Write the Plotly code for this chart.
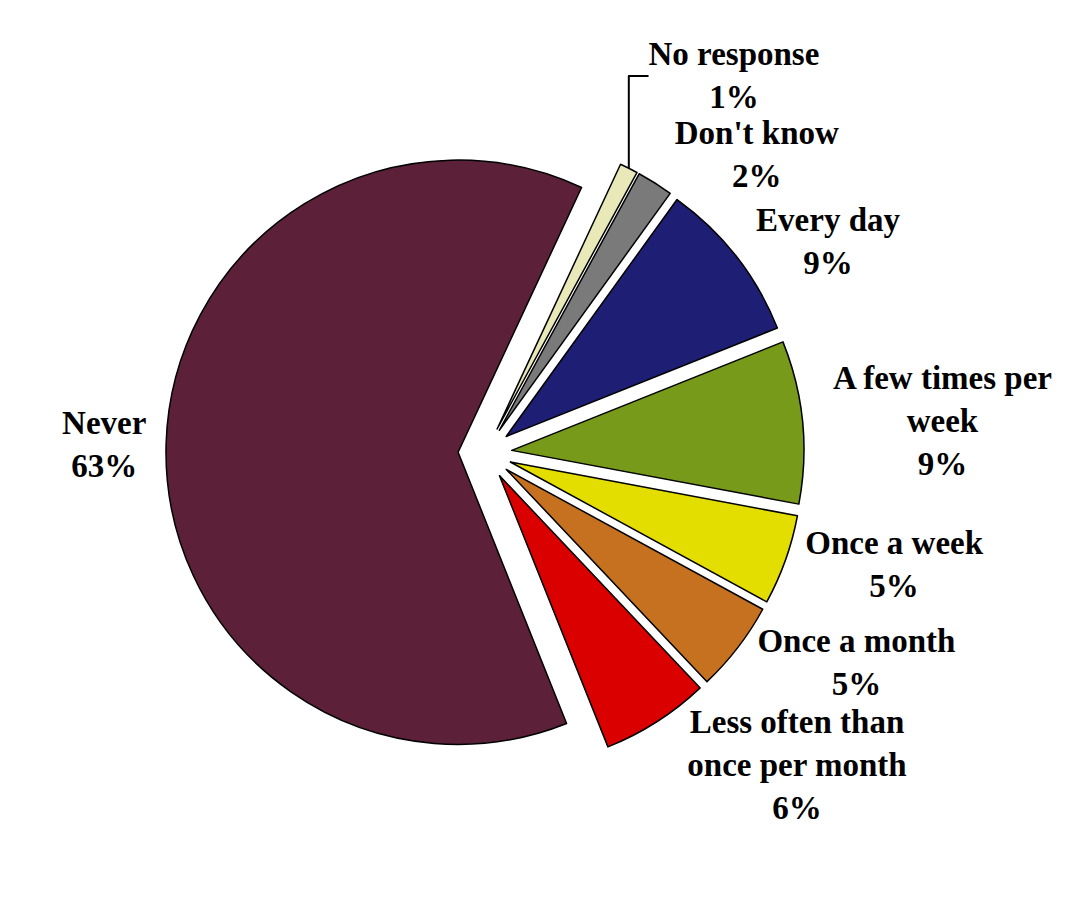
import plotly.graph_objects as go

# Survey answer categories, clockwise from the top
labels = [
    "No response",
    "Don't know",
    "Every day",
    "A few times per<br>week",
    "Once a week",
    "Once a month",
    "Less often than<br>once per month",
    "Never",
]
values = [1, 2, 9, 9, 5, 5, 6, 63]

colors = ["#E8E8B8", "#7A7A7A", "#1E1E74", "#789A1A",
          "#E4DE00", "#C6711F", "#DA0000", "#5C2138"]

fig = go.Figure()

fig.add_trace(go.Pie(
    labels=labels,
    values=values,
    sort=False,
    direction="clockwise",
    rotation=25,
    pull=0.092,
    automargin=False,
    marker=dict(colors=colors, line=dict(color="black", width=1.5)),
    texttemplate="%{label}<br>%{percent:.0%}",
    textposition="outside",
    textfont=dict(family="Liberation Serif", size=33, color="black", weight="bold"),
    showlegend=False,
    domain=dict(x=[0.1452, 0.7316], y=[0.1539, 0.8605]),
))

fig.update_layout(
    width=1088,
    height=903,
    autosize=False,
    margin=dict(l=0, r=0, t=0, b=0, autoexpand=False),
    paper_bgcolor="white",
    plot_bgcolor="white",
)

fig.write_html("out.html")
